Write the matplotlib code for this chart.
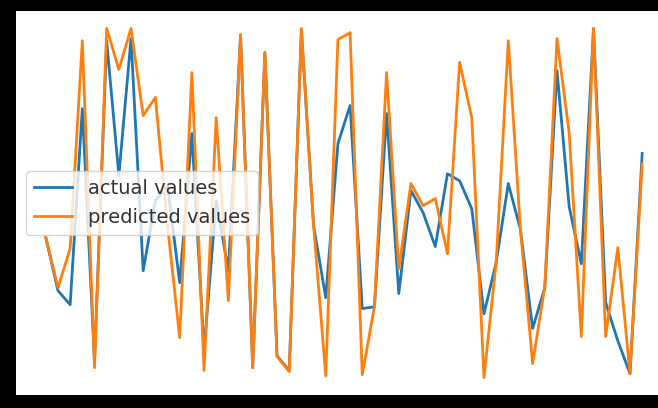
import matplotlib
matplotlib.use("Agg")
import matplotlib.pyplot as plt
import numpy as np

# values (arbitrary 0-100 scale)
actual_values = [40.9, 25.7, 21.7, 77.7, 5.7, 97.1, 58.6, 97.7, 31.4, 51.4,
                 55.7, 28.0, 70.6, 8.6, 51.4, 31.4, 98.6, 3.7, 93.7, 7.1,
                 2.9, 100.0, 44.3, 23.7, 67.7, 78.6, 20.6, 21.1, 76.3, 24.9,
                 54.3, 48.0, 38.3, 59.1, 57.1, 49.1, 19.1, 33.7, 56.3, 43.1,
                 14.9, 26.6, 88.6, 49.7, 33.4, 100.6, 22.3, 11.4, 2.0, 64.9]
predicted_values = [40.9, 26.6, 37.7, 97.1, 3.7, 100.6, 88.9, 100.6, 75.7, 80.9,
                    44.3, 12.3, 88.0, 2.9, 75.1, 22.9, 98.9, 3.7, 93.7, 6.9,
                    2.6, 100.6, 44.3, 1.4, 97.4, 99.4, 1.7, 21.1, 88.0, 32.0,
                    56.3, 50.0, 52.0, 36.3, 90.9, 75.1, 0.9, 33.7, 97.1, 43.1,
                    4.9, 26.9, 97.7, 70.9, 12.6, 100.6, 12.6, 38.0, 2.0, 62.0]

fig = plt.figure(figsize=(6.58, 4.08), dpi=100, facecolor="black")
ax = fig.add_axes([16 / 658, 13 / 408, 656 / 658, 384 / 408])
ax.set_facecolor("white")

ax.plot(actual_values, label="actual values", color="#1f77b4", linewidth=2)
ax.plot(predicted_values, label="predicted values", color="#ff7f0e", linewidth=2)

ax.set_xticks([])
ax.set_yticks([])
for spine in ax.spines.values():
    spine.set_visible(False)

leg = ax.legend(loc="center left", fontsize=14)
for text in leg.get_texts():
    text.set_color("#333333")

fig.savefig("out.png", dpi=100, facecolor="black")
